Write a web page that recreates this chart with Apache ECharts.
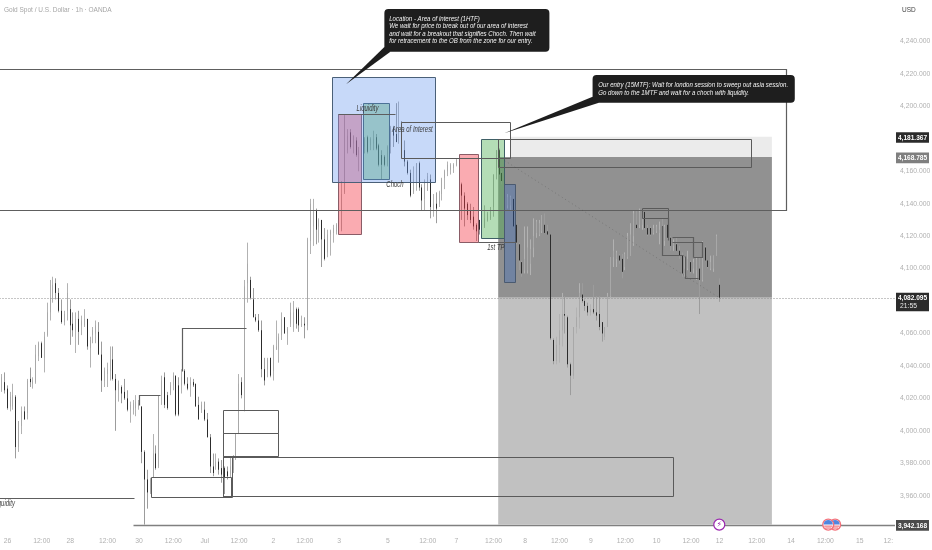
<!DOCTYPE html>
<html>
<head>
<meta charset="utf-8">
<style>html,body{margin:0;padding:0;background:#fff}#c{width:932px;height:550px}</style>
<script src="https://cdn.jsdelivr.net/npm/echarts@6/dist/echarts.min.js"></script>
</head>
<body>
<div id="c"></div>
<script>
// --- data: [open, close, low, high] per hourly bar
const candles = [
[4025,4033,4024,4035],[4030,4025,4023,4036],[4026,4014,4013,4028],[4015,4021,4012,4024],[4015,4022,4013,4029],
[4021,3990,3983,4022],[3990,4006,3987,4006],[4003,4012,3998,4015],[4012,4007,4007,4015],[4011,4031,4007,4032],
[4032,4030,4027,4039],[4029,4031,4026,4033],[4030,4047,4029,4053],[4046,4054,4043,4055],[4054,4045,4045,4055],
[4045,4058,4036,4061],[4059,4073,4058,4079],[4073,4081,4068,4093],[4081,4090,4079,4095],[4091,4085,4081,4094],
[4085,4074,4073,4088],[4074,4067,4066,4081],[4067,4072,4065,4074],[4074,4085,4068,4091],[4075,4065,4053,4081],
[4066,4062,4058,4073],[4062,4069,4048,4073],[4069,4061,4053,4074],[4065,4068,4059,4071],[4065,4069,4064,4075],
[4069,4052,4050,4069],[4051,4056,4039,4058],[4059,4062,4054,4064],[4060,4065,4054,4068],[4061,4047,4047,4067],
[4047,4031,4024,4055],[4031,4037,4027,4039],[4035,4038,4027,4042],[4037,4044,4031,4052],[4044,4032,4031,4052],
[4032,4025,4000,4035],[4025,4029,4018,4031],[4027,4023,4017,4028],[4024,4020,4019,4032],[4020,4013,4012,4025],
[4013,4016,4005,4018],[4013,4017,4010,4019],[4014,4018,4009,4022],[4015,4017,4013,4019],[4015,3987,3980,4015],
[3987,3970,3942.2,3988],[3970,3962,3952,3976],[3962,3970,3961,3971],[3971,3986,3972,3998],[3986,3977,3976,3991],
[3978,4022,3977,4022],[4022,4031,4016,4034],[4033,4016,4014,4036],[4022,4014,4013,4024],[4023,4028,4022,4030],
[4028,4034,4025,4036],[4034,4010,4009,4034],[4028,4010,4009,4033],[4028,4033,4023,4038],[4037,4029,4028,4038],
[4029,4026,4025,4033],[4028,4030,4021,4033],[4030,4028,4027,4032],[4029,4015,4015,4029],[4016,4007,4007,4021],
[4013,4016,4011,4018],[4013,4007,4006,4018],[4007,3996,3996,4011],[3996,3978,3974,3998],[3978,3974,3972,3986],
[3978,3981,3976,3986],[3981,3976,3973,3983],[3977,3973,3968,3982],[3977,3971,3961,3978],[3975,3972,3970,3978],
[3973,3978,3971,3984],[3976,3983,3974,3985],[3983,3998,3982,3998],[3998,4029,3998,4035],[4030,4022,4020,4033],
[4013,4089,4012,4093],[4091,4103,4079,4116],[4093,4082,4081,4095],[4081,4070,4070,4088],[4070,4068,4067,4072],
[4068,4062,4061,4072],[4062,4038,4033,4068],[4038,4031,4028,4045],[4038,4044,4033,4045],[4045,4034,4033,4045],
[4037,4052,4031,4053],[4050,4052,4050,4068],[4050,4058,4042,4060],[4059,4069,4056,4073],[4070,4060,4060,4070],
[4060,4063,4053,4064],[4066,4073,4064,4079],[4064,4073,4061,4080],[4075,4066,4063,4076],[4075,4065,4061,4076],
[4065,4066,4064,4071],[4066,4065,4057,4070],[4065,4118,4062,4119],[4117,4140,4109,4143],[4126,4136,4114,4143],
[4136,4124,4115,4137],[4126,4130,4116,4131],[4130,4118,4101,4130],[4118,4106,4105,4125],[4110,4121,4107,4124],
[4121,4123,4108,4124],[4122,4125,4116,4127],[4123,4127,4121,4128],[4123,4128,4122,4132],[4124,4146,4123,4154],
[4147,4194,4146,4195],[4173,4182,4171,4186],[4184,4175,4174,4186],[4177,4182,4171,4182],[4179,4170,4169,4181],
[4170,4173,4160,4175],[4172,4177,4169,4179],[4175,4180,4171,4181],[4181,4172,4171,4182],[4176,4180,4173,4181],
[4177,4180,4173,4185],[4181,4174,4173,4183],[4176,4164,4163,4177],[4170,4164,4155,4173],[4169,4164,4163,4170],
[4164,4175,4163,4176],[4175,4187,4171,4188],[4187,4182,4175,4188],[4183,4178,4178,4202],[4179,4187,4177,4203],
[4185,4173,4170,4191],[4173,4166,4163,4179],[4166,4159,4158,4167],[4159,4145,4144,4161],[4147,4155,4146,4163],
[4153,4165,4148,4165],[4165,4150,4148,4166],[4150,4142,4136,4152],[4143,4154,4136,4155],[4148,4157,4148,4159],
[4155,4138,4131,4158],[4137,4140,4132,4146],[4140,4137,4128,4147],[4140,4147,4138,4148],[4146,4155,4142,4156],
[4156,4160,4149,4161],[4160,4164,4157,4166],[4161,4164,4158,4165],[4162,4164,4159,4165],[4164,4167,4163,4168],
[4163,4152,4150,4164],[4152,4145,4130,4153],[4145,4137,4126,4147],[4140,4133,4130,4141],[4136,4130,4128,4140],
[4132,4126,4124,4138],[4127,4123,4117,4128],[4130,4124,4121,4130],[4129,4134,4128,4136],[4126,4131,4125,4139],
[4130,4134,4129,4135],[4131,4136,4130,4138],[4138,4158,4132,4158],[4161,4173,4155,4173],[4173,4158,4158,4174],
[4159,4154,4152,4160],[4154,4139,4138,4155],[4139,4144,4137,4146],[4139,4144,4136,4145],[4143,4126,4126,4144],
[4127,4116,4115,4127],[4115,4105,4099,4116],[4104,4097,4095,4105],[4099,4106,4097,4126],[4099,4113,4097,4126],
[4103,4112,4096,4118],[4113,4120,4107,4131],[4122,4129,4119,4130],[4121,4128,4120,4130],[4123,4133,4122,4133],
[4127,4122,4122,4134],[4123,4121,4121,4127],[4121,4057,4056,4121],[4056,4043,4041,4057],[4043,4053,4041,4058],
[4053,4062,4042,4072],[4062,4072,4052,4085],[4072,4071,4060,4083],[4070,4041,4039,4071],[4041,4034,4022,4042],
[4034,4064,4032,4064],[4064,4070,4060,4076],[4070,4085,4063,4091],[4084,4080,4079,4091],[4080,4077,4074,4081],
[4077,4073,4071,4079],[4073,4075,4071,4078],[4075,4073,4072,4090],[4073,4071,4068,4083],[4072,4064,4062,4083],
[4067,4060,4055,4067],[4058,4064,4056,4064],[4064,4083,4064,4085],[4083,4107,4082,4107],[4107,4111,4101,4118],
[4106,4110,4101,4111],[4108,4105,4103,4109],[4106,4098,4094,4109],[4101,4109,4099,4110],[4107,4120,4106,4122],
[4108,4121,4108,4128],[4120,4134,4114,4136],[4127,4125,4125,4136],[4127,4135,4125,4137],[4127,4134,4124,4137],
[4135,4125,4124,4136],[4125,4121,4120,4127],[4125,4121,4120,4126],[4122,4125,4121,4127],[4123,4126,4122,4127],
[4122,4124,4115,4129],[4126,4117,4108,4131],[4117,4126,4114,4127],[4127,4119,4118,4127],[4119,4114,4111,4120],
[4114,4116,4111,4118],[4115,4111,4111,4119],[4111,4108,4106,4114],[4108,4097,4095,4110],[4097,4100,4095,4107],
[4100,4106,4099,4111],[4104,4098,4097,4105],[4100,4104,4097,4106],[4099,4106,4093,4107],[4100,4093,4072,4107],
[4093,4107,4092,4117],[4113,4105,4105,4114],[4105,4101,4100,4105],[4100,4104,4099,4108],[4100,4108,4098,4108],
[4108,4120,4108,4121],[4090,4082.095,4079.5,4094]
];
const title = 'Gold Spot / U.S. Dollar · 1h · OANDA';
const currency = 'USD';
const xTickBars = [2,14,24,37,48,60,71,83,95,106,118,135,149,159,172,183,195,206,218,229,241,251,264,276,288,300,310];
const xTickLabels = ['26','12:00','28','12:00','30','12:00','Jul','12:00','2','12:00','3','5','12:00','7','12:00','8','12:00','9','12:00','10','12:00','12','12:00','14','12:00','15','12:'];
const yTicks = [3960,3980,4000,4020,4040,4060,4100,4120,4140,4160,4200,4220,4240];
const entryTop = 4181.367, entryPrice = 4168.785, lastPrice = 4082.095, targetPrice = 3942.168;
const countdown = '21:55';

// --- drawings: [bar1, price1, bar2, price2]
const greyDark = [[173.6,entryPrice,269.3,lastPrice]];
const greyLight = [[173.6,lastPrice,269.3,targetPrice]];
const palePanel = [[177.9,entryTop,269.3,entryPrice]];
const blueZones = [[115.5,4217.9,151.6,4153.2]];
const redZones = [[117.6,4195.1,125.5,4121.1],[159.8,4170.5,166.6,4116.2]];
const greenZones = [[126.4,4201.9,135.5,4155],[167.7,4180.1,175.6,4119.3]];
const steelZones = [[175.7,4152,179.7,4091.3]];
const outlineBoxes = [
 [139.6,4190.4,177.8,4168.4],[173.6,4179.9,262,4162.9],
 [77.3,4012.8,96.4,3998.5],[77.3,3998.5,96.4,3984.5],[77.3,3984.1,234.7,3959.8],
 [52.3,3971.3,80.3,3959],[77.3,3984.5,80.3,3959],[224,4137.5,233.1,4131.6]
];
const polylines = [
 [[-1,4223],[274.2,4223],[274.2,4136.1],[-1,4136.1]],
 [[-1,3958.6],[46.3,3958.6]],
 [[48,4015.9],[48,4022.1],[55.2,4022.1]],
 [[63.1,4037],[63.1,4063.4],[85.4,4063.4]],
 [[117.6,4195.1],[137.5,4195.1]],
 [[166.6,4116.2],[179.7,4116.2]],
 [[233.1,4131.6],[233.1,4117.6]],
 [[231,4126.2],[231,4108.2],[238.1,4108.2]],
 [[234.3,4119.3],[241.8,4119.3],[241.8,4107.3]],
 [[234.3,4116.6],[245,4116.6],[245,4107.3],[241.8,4107.3]],
 [[238.9,4107.8],[238.9,4094],[243.6,4094]]
];
const targetLine = [[45.9,targetPrice],[312.4,targetPrice]];
const lastLine = [[-1,lastPrice],[312.4,lastPrice]];
const diagonal = [[175.6,4167],[251.2,4082]];
const zoneLabels = [
 [127.9,4198.6,'Liquidity','center'],
 [136.5,4185.7,'Area of Interest','left'],
 [137.5,4151.7,'Choch','center'],
 [172.8,4112.9,'1st TP','center'],
 [4.65,3955.4,'Liquidity','right']
];
const callouts = [
 {box:[133.8,4260,191.5,4233.7], tail:[[133.8,4236.6],[135.9,4233.7],[120.4,4213.6]], textBar:135.5,
  prices:[4253.9,4249.4,4244.8,4240.3],
  lines:['Location - Area of interest (1HTF)','We wait for price to break out of our area of interest','and wait for a breakout that signifies Choch. Then wait','for retracement to the OB from the zone for our entry.']},
 {box:[206.6,4219.3,277.3,4202.3], tail:[[206.6,4206],[208.8,4202.3],[175.7,4183.4]], textBar:208.6,
  prices:[4213.2,4208.7],
  lines:['Our entry (15MTF): Wait for london session to sweep out asia session.','Go down to the 1MTF and wait for a choch with liquidity.']}
];
const eventBars = {lightning:[250.9], flags:[291.4,289]};

// --- helpers
const fmt = v => v.toLocaleString('en-US',{minimumFractionDigits:3,maximumFractionDigits:3});
const rectOf = (api,r)=>{const a=api.coord([r[0],r[1]]),c=api.coord([r[2],r[3]]);
  return {x:Math.min(a[0],c[0]),y:Math.min(a[1],c[1]),width:Math.abs(c[0]-a[0]),height:Math.abs(c[1]-a[1])};};
const crisp = s=>{const x=Math.round(s.x)+.5,y=Math.round(s.y)+.5;
  return {x,y,width:Math.round(s.width),height:Math.round(s.height)};};
const customBase = (rows,z,render,clip=true)=>({type:'custom',silent:true,z,clip,
  coordinateSystem:'cartesian2d',animation:false,data:rows.map((_,i)=>[i]),
  encode:{x:0,y:[]},renderItem:(p,api)=>render(rows[p.dataIndex],api)});
const zoneSeries = (rows,z,fill,stroke)=>customBase(rows,z,(r,api)=>({type:'rect',
  shape:stroke?crisp(rectOf(api,r)):rectOf(api,r),style:{fill,stroke:stroke||null,lineWidth:stroke?1:0}}));
const lineSeries = (rows,z,stroke,lineWidth,lineDash)=>customBase(rows,z,(pts,api)=>({type:'polyline',
  shape:{points:pts.map(q=>{const c=api.coord(q);return [Math.round(c[0])+.5,Math.round(c[1])+.5];})},
  style:{fill:null,stroke,lineWidth,lineDash:lineDash||null}}));
// condensed text: real text squeezed horizontally
const squeezed = (text,x,y,align,fill,font,scaleX)=>({type:'text',x,y,scaleX,
  style:{text,x:0,y:0,align,verticalAlign:'middle',fill,font}});

const series = [
 zoneSeries(greyDark,1,'#919191'),
 zoneSeries(greyLight,1,'#c1c1c1'),
 zoneSeries(palePanel,1,'#ebebeb'),
 {type:'candlestick',z:3,silent:true,animation:false,large:false,progressive:0,barWidth:0.01,
  data:candles.map((c,i)=>[i,c[0],c[1],c[2],c[3]]),
  itemStyle:{color:'#b2b2b2',color0:'#9c9c9c',borderColor:'#b2b2b2',borderColor0:'#9c9c9c',borderWidth:1}},
 {type:'candlestick',z:4,silent:true,animation:false,large:false,progressive:0,barWidth:1.2,
  data:candles.map((c,i)=>[i,c[0],c[1],Math.min(c[0],c[1]),Math.max(c[0],c[1])]),
  itemStyle:{color:'#a8a8a8',color0:'#2c2c2c',borderColor:'#a8a8a8',borderColor0:'#2c2c2c',borderWidth:1}},
 zoneSeries(redZones,5,'rgba(242,54,69,0.42)','#8a5c66'),
 zoneSeries(greenZones,5,'rgba(76,175,80,0.42)','#3f5f66'),
 zoneSeries(steelZones,5,'rgba(41,98,200,0.30)','#4a5a70'),
 zoneSeries(blueZones,6,'rgba(100,149,237,0.36)','#4a6078'),
 zoneSeries(outlineBoxes,7,'rgba(0,0,0,0)','#5a5a5a'),
 lineSeries(polylines,7,'#5e5e5e',1.2),
 lineSeries([targetLine],7,'#808080',1.6),
 lineSeries([lastLine],7,'#8c8c8c',1,[1,2]),
 lineSeries([diagonal],7,'rgba(70,70,70,0.35)',1,[1,3]),
 customBase(zoneLabels,8,(t,api)=>{const c=api.coord([t[0],t[1]]);
   return squeezed(t[2],c[0],c[1],t[3],'#3b3b3b','italic 8.5px "Liberation Sans",sans-serif',0.7);}),
 customBase(callouts,9,(cb,api)=>{
   const kids=[{type:'polygon',shape:{points:cb.tail.map(q=>api.coord(q))},style:{fill:'#1e1e1e'}},
     {type:'rect',shape:Object.assign(rectOf(api,cb.box),{r:4}),style:{fill:'#1e1e1e'}}];
   cb.lines.forEach((s,i)=>{const c=api.coord([cb.textBar,cb.prices[i]]);
     kids.push(squeezed(s,c[0],c[1],'left','#f4f4f4','italic 8px "Liberation Sans",sans-serif',0.76));});
   return {type:'group',children:kids};
 },false),
 customBase(eventBars.lightning,9,(b,api)=>{const c=api.coord([b,targetPrice]);
   return {type:'group',children:[
     {type:'circle',shape:{cx:c[0],cy:c[1],r:5.5},style:{fill:'#fff',stroke:'#9c27b0',lineWidth:1.2}},
     {type:'text',style:{text:'⚡',x:c[0],y:c[1],align:'center',verticalAlign:'middle',fill:'#9c27b0',font:'8px "DejaVu Sans"'}}]};
 },false),
 customBase(eventBars.flags,9,(b,api)=>{const c=api.coord([b,targetPrice]);const cx=c[0],cy=c[1];
   return {type:'group',children:[
     {type:'circle',shape:{cx,cy,r:5.5},style:{fill:'#fff',stroke:'#f2707a',lineWidth:1.4}},
     {type:'sector',shape:{cx,cy,r:4.6,r0:0,startAngle:Math.PI,endAngle:Math.PI*2},style:{fill:'#4f86e0'}},
     {type:'line',shape:{x1:cx-4,y1:cy+1.5,x2:cx+4,y2:cy+1.5},style:{stroke:'#ef5a64',lineWidth:1}},
     {type:'line',shape:{x1:cx-3,y1:cy+3.4,x2:cx+3,y2:cy+3.4},style:{stroke:'#ef5a64',lineWidth:1}}]};
 },false),
 customBase([entryTop,entryPrice,lastPrice,targetPrice],10,(p,api)=>{
   const c=api.coord([312.34,p]);const isLast=p===lastPrice,isEntry=p===entryPrice,isTarget=p===targetPrice;
   const x=c[0]+1,y=c[1]-4.5,h=isLast?18.7:10.6;
   const kids=[{type:'rect',shape:{x,y:isLast?y-.5:y,width:33,height:h},
     style:{fill:isEntry?'#7f7f7f':isTarget?'#4b4b4b':'#2b2b2b'}},
     squeezed(fmt(p),x+16.5,isLast?y+4.5:y+5.5,'center','#fff','bold 7.8px "Liberation Sans",sans-serif',0.84)];
   if(isLast) kids.push(squeezed(countdown,x+4,y+13,'left','#e8e8e8','7.5px "Liberation Sans",sans-serif',0.9));
   return {type:'group',children:kids};
 },false)
];

const chart = echarts.init(document.getElementById('c'),null,{renderer:'canvas',width:932,height:550});
chart.setOption({
 animation:false,backgroundColor:'#fff',
 title:{text:title,left:4,top:7,padding:0,textStyle:{fontSize:6.5,fontWeight:'normal',color:'#a6a6a6',fontFamily:'"Liberation Sans",sans-serif'}},
 grid:{left:0,right:37,top:0,height:533,containLabel:false,outerBoundsMode:'none'},
 xAxis:{type:'value',min:-0.594,max:312.34,splitLine:{show:false},axisLine:{show:false},axisTick:{show:false},
   axisLabel:{customValues:xTickBars,margin:5,fontSize:6.8,color:'#b0b0b0',fontFamily:'"Liberation Sans",sans-serif',
     formatter:v=>xTickLabels[xTickBars.indexOf(v)]||''}},
 yAxis:{type:'value',position:'right',min:3937,max:4265.6,scale:true,splitLine:{show:false},axisLine:{show:false},axisTick:{show:false},
   axisLabel:{customValues:yTicks,margin:5,fontSize:6.8,color:'#b0b0b0',fontFamily:'"Liberation Sans",sans-serif',
     formatter:v=>fmt(v)}},
 graphic:[{type:'text',left:902,top:7,style:{text:currency,fill:'#444',font:'6.5px "Liberation Sans",sans-serif'}}],
 series
});
</script>
</body>
</html>
